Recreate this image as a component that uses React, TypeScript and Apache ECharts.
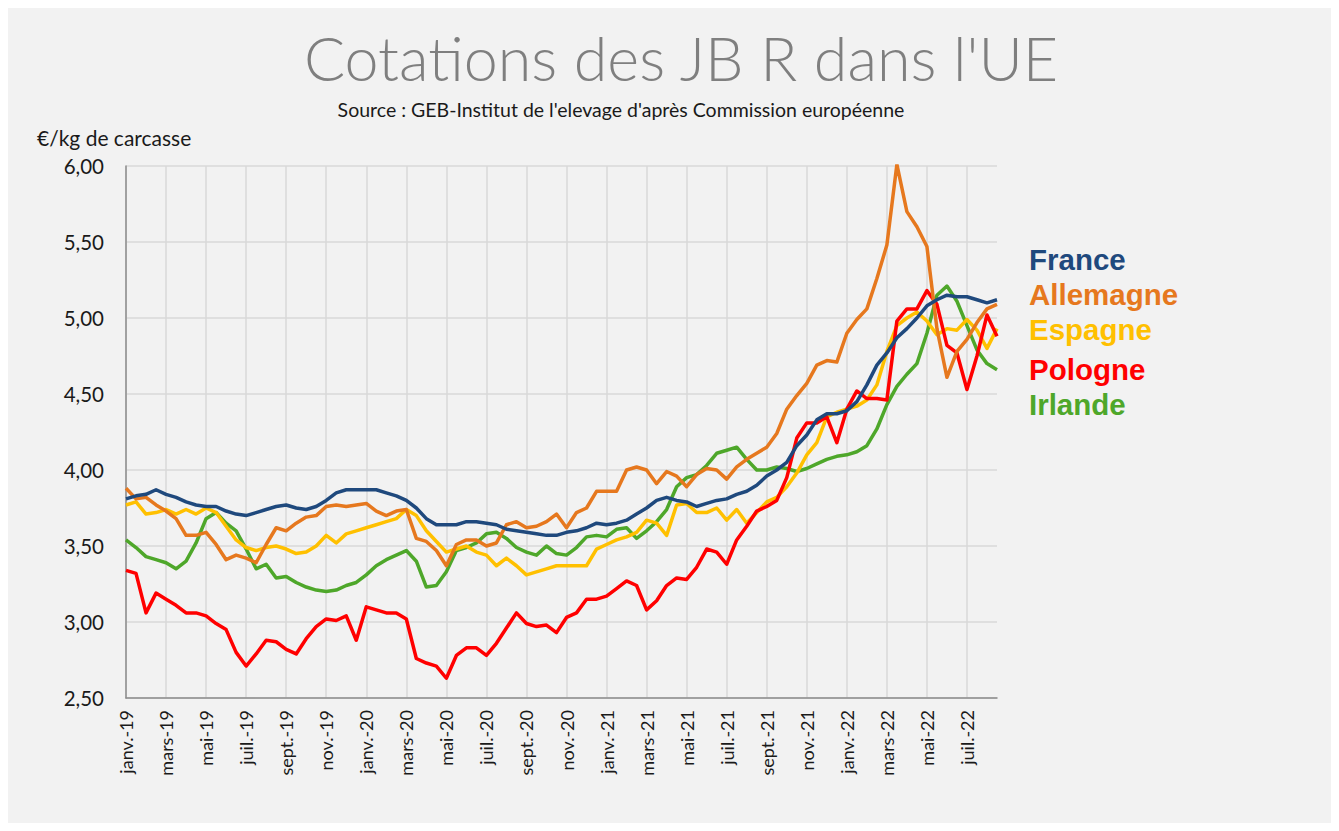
import React, { useEffect, useRef } from "react";
import * as echarts from "echarts";

// Tick labels (every 2 months, starting janv. 2019)
const monthLabels = [
  "janv.-19", "mars-19", "mai-19", "juil.-19", "sept.-19", "nov.-19",
  "janv.-20", "mars-20", "mai-20", "juil.-20", "sept.-20", "nov.-20",
  "janv.-21", "mars-21", "mai-21", "juil.-21", "sept.-21", "nov.-21",
  "janv.-22", "mars-22", "mai-22", "juil.-22",
];
const yTicks = [2.5, 3.0, 3.5, 4.0, 4.5, 5.0, 5.5, 6.0];

// One value every half month (1 and 15 of each month), from 1 janv. 2019
const STEP_MONTHS = 0.5;

const france = [
  3.81, 3.83, 3.84, 3.87, 3.84, 3.82, 3.79, 3.77, 3.76, 3.76,
  3.73, 3.71, 3.70, 3.72, 3.74, 3.76, 3.77, 3.75, 3.74, 3.76,
  3.80, 3.85, 3.87, 3.87, 3.87, 3.87, 3.85, 3.83, 3.80, 3.75,
  3.68, 3.64, 3.64, 3.64, 3.66, 3.66, 3.65, 3.64, 3.61, 3.60,
  3.59, 3.58, 3.57, 3.57, 3.59, 3.60, 3.62, 3.65, 3.64, 3.65,
  3.67, 3.71, 3.75, 3.80, 3.82, 3.80, 3.79, 3.76, 3.78, 3.80,
  3.81, 3.84, 3.86, 3.90, 3.96, 4.00, 4.05, 4.16, 4.23, 4.33,
  4.37, 4.37, 4.39, 4.45, 4.56, 4.69, 4.77, 4.87, 4.93, 5.00,
  5.08, 5.12, 5.15, 5.14, 5.14, 5.12, 5.10, 5.12,
];
const allemagne = [
  3.88, 3.81, 3.82, 3.77, 3.73, 3.68, 3.57, 3.57, 3.59, 3.51,
  3.41, 3.44, 3.42, 3.39, 3.51, 3.62, 3.60, 3.65, 3.69, 3.70,
  3.76, 3.77, 3.76, 3.77, 3.78, 3.73, 3.70, 3.73, 3.74, 3.55,
  3.53, 3.47, 3.37, 3.51, 3.54, 3.54, 3.50, 3.52, 3.64, 3.66,
  3.62, 3.63, 3.66, 3.71, 3.62, 3.72, 3.75, 3.86, 3.86, 3.86,
  4.00, 4.02, 4.00, 3.91, 3.99, 3.96, 3.89, 3.97, 4.01, 4.00,
  3.94, 4.02, 4.07, 4.11, 4.15, 4.24, 4.40, 4.49, 4.57, 4.69,
  4.72, 4.71, 4.90, 4.99, 5.06, 5.26, 5.48, 6.01, 5.70, 5.60,
  5.47, 4.93, 4.61, 4.78, 4.86, 4.97, 5.06, 5.09,
];
const espagne = [
  3.77, 3.79, 3.71, 3.72, 3.74, 3.71, 3.74, 3.71, 3.75, 3.72,
  3.63, 3.54, 3.49, 3.47, 3.49, 3.50, 3.48, 3.45, 3.46, 3.50,
  3.57, 3.52, 3.58, 3.60, 3.62, 3.64, 3.66, 3.68, 3.74, 3.70,
  3.60, 3.53, 3.46, 3.48, 3.50, 3.46, 3.44, 3.37, 3.42, 3.37,
  3.31, 3.33, 3.35, 3.37, 3.37, 3.37, 3.37, 3.48, 3.51, 3.54,
  3.56, 3.59, 3.67, 3.65, 3.57, 3.77, 3.78, 3.72, 3.72, 3.75,
  3.67, 3.74, 3.65, 3.72, 3.79, 3.82, 3.89, 3.98, 4.10, 4.18,
  4.35, 4.38, 4.40, 4.42, 4.46, 4.56, 4.78, 4.95, 5.00, 5.04,
  4.98, 4.89, 4.93, 4.92, 4.99, 4.92, 4.80, 4.93,
];
const pologne = [
  3.34, 3.32, 3.06, 3.19, 3.15, 3.11, 3.06, 3.06, 3.04, 2.99,
  2.95, 2.80, 2.71, 2.79, 2.88, 2.87, 2.82, 2.79, 2.89, 2.97,
  3.02, 3.01, 3.04, 2.88, 3.10, 3.08, 3.06, 3.06, 3.02, 2.76,
  2.73, 2.71, 2.63, 2.78, 2.83, 2.83, 2.78, 2.86, 2.96, 3.06,
  2.99, 2.97, 2.98, 2.93, 3.03, 3.06, 3.15, 3.15, 3.17, 3.22,
  3.27, 3.24, 3.08, 3.14, 3.24, 3.29, 3.28, 3.36, 3.48, 3.46,
  3.38, 3.54, 3.63, 3.73, 3.76, 3.80, 3.95, 4.21, 4.31, 4.31,
  4.35, 4.18, 4.40, 4.52, 4.47, 4.47, 4.46, 4.98, 5.06, 5.06,
  5.18, 5.09, 4.82, 4.77, 4.53, 4.75, 5.02, 4.88,
];
const irlande = [
  3.54, 3.49, 3.43, 3.41, 3.39, 3.35, 3.40, 3.52, 3.68, 3.72,
  3.65, 3.60, 3.48, 3.35, 3.38, 3.29, 3.30, 3.26, 3.23, 3.21,
  3.20, 3.21, 3.24, 3.26, 3.31, 3.37, 3.41, 3.44, 3.47, 3.40,
  3.23, 3.24, 3.33, 3.47, 3.49, 3.52, 3.58, 3.59, 3.55, 3.49,
  3.46, 3.44, 3.50, 3.45, 3.44, 3.49, 3.56, 3.57, 3.56, 3.61,
  3.62, 3.55, 3.60, 3.66, 3.74, 3.89, 3.95, 3.97, 4.03, 4.11,
  4.13, 4.15, 4.07, 4.00, 4.00, 4.02, 4.01, 3.99, 4.01, 4.04,
  4.07, 4.09, 4.10, 4.12, 4.16, 4.27, 4.43, 4.55, 4.63, 4.70,
  4.90, 5.15, 5.21, 5.11, 4.95, 4.79, 4.70, 4.66,
];

const seriesNames = ["France", "Allemagne", "Espagne", "Pologne", "Irlande"];
const seriesValues = [france, allemagne, espagne, pologne, irlande];
const seriesColors = ["#1F497D", "#E6781E", "#FFC000", "#FF0000", "#4EA72A"];
// drawing order (first drawn = bottom)
const drawOrder = [4, 2, 3, 1, 0];

const TITLE = "Cotations des JB R dans l'UE";
const SUBTITLE = "Source : GEB-Institut de l'elevage d'après Commission européenne";
const UNIT = "€/kg de carcasse";

const FONT = "Lato, 'Noto Sans', sans-serif";
const LEGEND_FONT = "'Liberation Sans', Arial, sans-serif";

export default function App() {
  const ref = useRef<HTMLDivElement>(null);

  useEffect(() => {
    if (!ref.current) return;
    const chart = echarts.init(ref.current, null, { renderer: "svg" });

    const lastX = (france.length - 1) * STEP_MONTHS;

    const legendY = [251, 286, 321, 361, 396];

    const option: any = {
      animation: false,
      backgroundColor: "#f2f2f2",
      grid: { left: 118, top: 158, width: 871, height: 532, containLabel: false },
      xAxis: {
        type: "value",
        min: 0,
        max: lastX,
        interval: 2,
        axisLine: { show: true, onZero: false, lineStyle: { color: "#8c8c8c", width: 1.5 } },
        axisTick: { show: false },
        splitLine: { show: true, showMaxLine: false, lineStyle: { color: "#d9d9d9", width: 1.5 } },
        axisLabel: {
          rotate: 90,
          margin: 12,
          fontFamily: FONT,
          fontSize: 18,
          color: "#1a1a1a",
          showMaxLabel: false,
          formatter: (v: number) => {
            const k = v / 2;
            return Number.isInteger(k) && monthLabels[k] ? monthLabels[k] : "";
          },
        },
      },
      yAxis: {
        type: "value",
        min: yTicks[0],
        max: yTicks[yTicks.length - 1],
        interval: 0.5,
        axisLine: { show: true, lineStyle: { color: "#8c8c8c", width: 1.5 } },
        axisTick: { show: false },
        splitLine: { show: true, lineStyle: { color: "#d9d9d9", width: 1.5 } },
        axisLabel: {
          margin: 22,
          fontFamily: FONT,
          fontSize: 20.5,
          color: "#1a1a1a",
          formatter: (v: number) => v.toFixed(2).replace(".", ","),
        },
      },
      series: drawOrder.map((idx) => ({
        name: seriesNames[idx],
        type: "line",
        symbol: "none",
        clip: true,
        lineStyle: { color: seriesColors[idx], width: 3.5, join: "round" },
        data: seriesValues[idx].map((v, i) => [i * STEP_MONTHS, v]),
      })),
      graphic: [
        {
          type: "text",
          x: 673,
          y: 49,
          style: {
            text: TITLE,
            fill: "#7f7f7f",
            font: `300 61px ${FONT}`,
            textAlign: "center",
            textVerticalAlign: "middle",
          },
        },
        {
          type: "text",
          x: 613,
          y: 101,
          style: {
            text: SUBTITLE,
            fill: "#1a1a1a",
            font: `19.5px ${FONT}`,
            textAlign: "center",
            textVerticalAlign: "middle",
          },
        },
        {
          type: "text",
          x: 29,
          y: 129,
          style: {
            text: UNIT,
            fill: "#1a1a1a",
            font: `21px ${FONT}`,
            textAlign: "left",
            textVerticalAlign: "middle",
          },
        },
        ...seriesNames.map((name, i) => ({
          type: "text",
          x: 1021,
          y: legendY[i],
          style: {
            text: name,
            fill: seriesColors[i],
            font: `bold 29.5px ${LEGEND_FONT}`,
            lineHeight: 30,
            textAlign: "left",
            textVerticalAlign: "middle",
          },
        })),
      ],
    };

    chart.setOption(option);
    return () => chart.dispose();
  }, []);

  return <div ref={ref} style={{ width: 1323, height: 815, background: "#f2f2f2" }} />;
}
